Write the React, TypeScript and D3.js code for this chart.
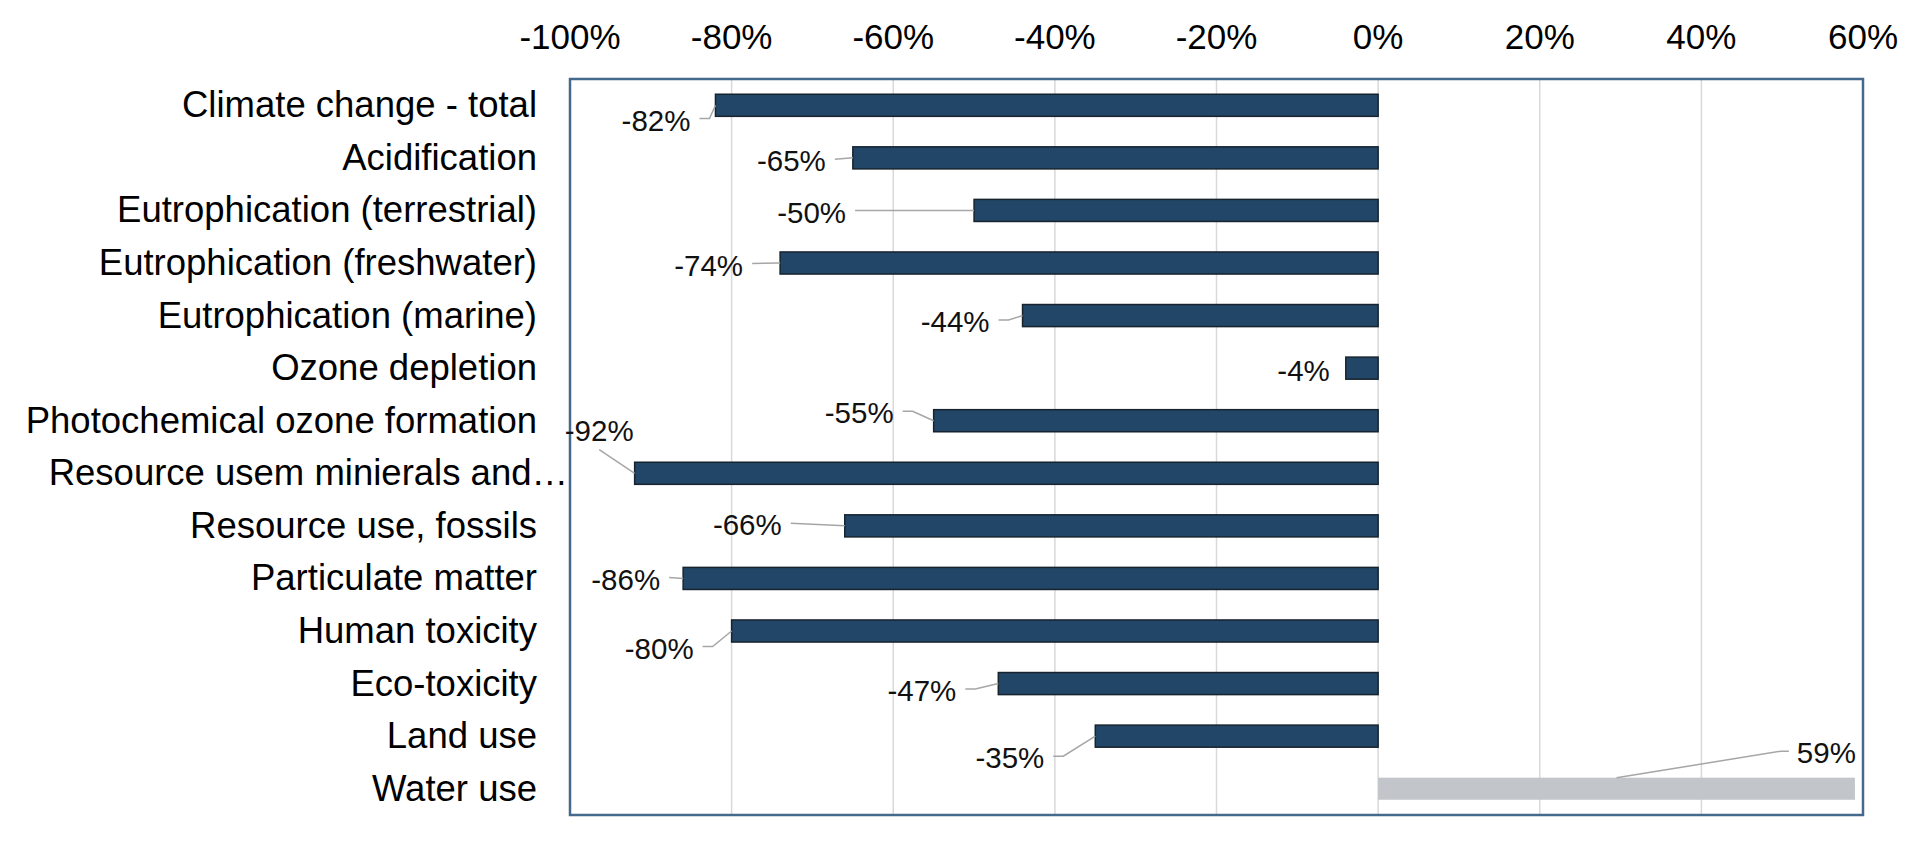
import { useEffect, useRef } from "react";
import * as d3 from "d3";

// Impact categories, top to bottom
const categories = [
  "Climate change - total",
  "Acidification",
  "Eutrophication (terrestrial)",
  "Eutrophication (freshwater)",
  "Eutrophication (marine)",
  "Ozone depletion",
  "Photochemical ozone formation",
  "Resource usem minierals and…",
  "Resource use, fossils",
  "Particulate matter",
  "Human toxicity",
  "Eco-toxicity",
  "Land use",
  "Water use",
];

// Relative change (%)
const values = [-82, -65, -50, -74, -44, -4, -55, -92, -66, -86, -80, -47, -35, 59];

const xTicks = [-100, -80, -60, -40, -20, 0, 20, 40, 60];

// Data label placement, relative to bar end / band centre
const labelDx = [-25, -27, -128, -37, -33, -16, -40, -1, -63, -23, -38, -42, -51, 1];
const labelDy = [14.7, 2.8, 1.6, 2, 6, 2, -8, -42.6, -1, 0.6, 17, 7, 21.6, -36];

const FONT = "'Liberation Sans', Arial, Helvetica, sans-serif";

export default function App() {
  const svgRef = useRef<SVGSVGElement>(null);

  useEffect(() => {
    if (!svgRef.current) return;

    const svg = d3.select(svgRef.current);
    const width = 1920;
    const height = 843;
    const margin = { top: 79, right: 57, bottom: 28, left: 570 };

    svg.selectAll("*").remove();
    svg.attr("width", width).attr("height", height);

    const xScale = d3
      .scaleLinear()
      .domain([-100, 60])
      .range([margin.left, width - margin.right]);

    const yScale = d3
      .scaleBand()
      .domain(categories)
      .range([margin.top, height - margin.bottom])
      .paddingInner(0.58)
      .paddingOuter(0.29);

    const bw = yScale.bandwidth();
    const cy = (i: number) => yScale(categories[i])! + bw / 2;

    // Grid lines
    svg
      .append("g")
      .selectAll("line")
      .data(xTicks)
      .enter()
      .append("line")
      .attr("x1", (d) => xScale(d))
      .attr("x2", (d) => xScale(d))
      .attr("y1", margin.top)
      .attr("y2", height - margin.bottom)
      .attr("stroke", "#d9d9d9")
      .attr("stroke-width", 1.5);

    // Top axis labels
    svg
      .append("g")
      .selectAll("text")
      .data(xTicks)
      .enter()
      .append("text")
      .attr("x", (d) => xScale(d))
      .attr("y", 49)
      .attr("text-anchor", "middle")
      .attr("font-family", FONT)
      .attr("font-size", "35px")
      .attr("fill", "#000")
      .text((d) => `${d}%`);

    // Category labels
    svg
      .append("g")
      .selectAll("text")
      .data(categories)
      .enter()
      .append("text")
      .attr("x", (d) => (d.endsWith("…") ? margin.left - 2 : 537))
      .attr("y", (d) => yScale(d)! + bw / 2)
      .attr("dy", "0.33em")
      .attr("text-anchor", "end")
      .attr("font-family", FONT)
      .attr("font-size", "36.5px")
      .attr("fill", "#000")
      .text((d) => d);

    // Bars
    svg
      .append("g")
      .selectAll("rect")
      .data(values)
      .enter()
      .append("rect")
      .attr("x", (d) => xScale(Math.min(0, d)))
      .attr("y", (_, i) => yScale(categories[i])!)
      .attr("width", (d) => Math.abs(xScale(d) - xScale(0)))
      .attr("height", bw)
      .attr("fill", (d) => (d < 0 ? "#224667" : "#c2c5ca"))
      .attr("stroke", (d) => (d < 0 ? "#17242e" : "none"))
      .attr("stroke-width", 1.5);

    // Plot frame
    svg
      .append("rect")
      .attr("x", margin.left)
      .attr("y", margin.top)
      .attr("width", width - margin.left - margin.right)
      .attr("height", height - margin.top - margin.bottom)
      .attr("fill", "none")
      .attr("stroke", "#44698c")
      .attr("stroke-width", 2.5);

    // Data labels with leader lines
    const labels = svg.append("g");
    const leaders = svg.append("g");
    values.forEach((v, i) => {
      const barEnd = xScale(v);
      const bandY = cy(i);
      const tRight = barEnd + labelDx[i];
      const tY = bandY + labelDy[i];

      const t = labels
        .append("text")
        .attr("x", tRight)
        .attr("y", tY)
        .attr("dy", "0.36em")
        .attr("text-anchor", "end")
        .attr("font-family", FONT)
        .attr("font-size", "29.5px")
        .attr("fill", "#111")
        .text(`${v}%`);

      const tw = (t.node() as SVGTextElement).getComputedTextLength();
      const tLeft = tRight - tw;
      const target: [number, number] = [v < 0 ? barEnd : (xScale(0) + barEnd) / 2, v < 0 ? bandY : bandY - bw / 2];
      const ly = tY - 1.5;
      let pts: [number, number][] = [];

      if (target[0] > tRight + 5) {
        const sx = tRight + 9;
        if (target[0] - sx < 12) return;
        pts = Math.abs(ly - target[1]) > 4 ? [[sx, ly], [sx + 10, ly], target] : [[sx, ly], target];
      } else if (target[0] < tLeft - 5) {
        const sx = tLeft - 8;
        pts = [[sx, ly], [sx - 8, ly], target];
      } else {
        pts = [[(tLeft + tRight) / 2, tY + 19], target];
      }

      leaders
        .append("path")
        .attr("d", d3.line()(pts))
        .attr("fill", "none")
        .attr("stroke", "#a6a6a6")
        .attr("stroke-width", 1.5);
    });
  }, []);

  return (
    <svg
      ref={svgRef}
      style={{ position: "absolute", left: 0, top: 0, display: "block", background: "#fff" }}
    ></svg>
  );
}
